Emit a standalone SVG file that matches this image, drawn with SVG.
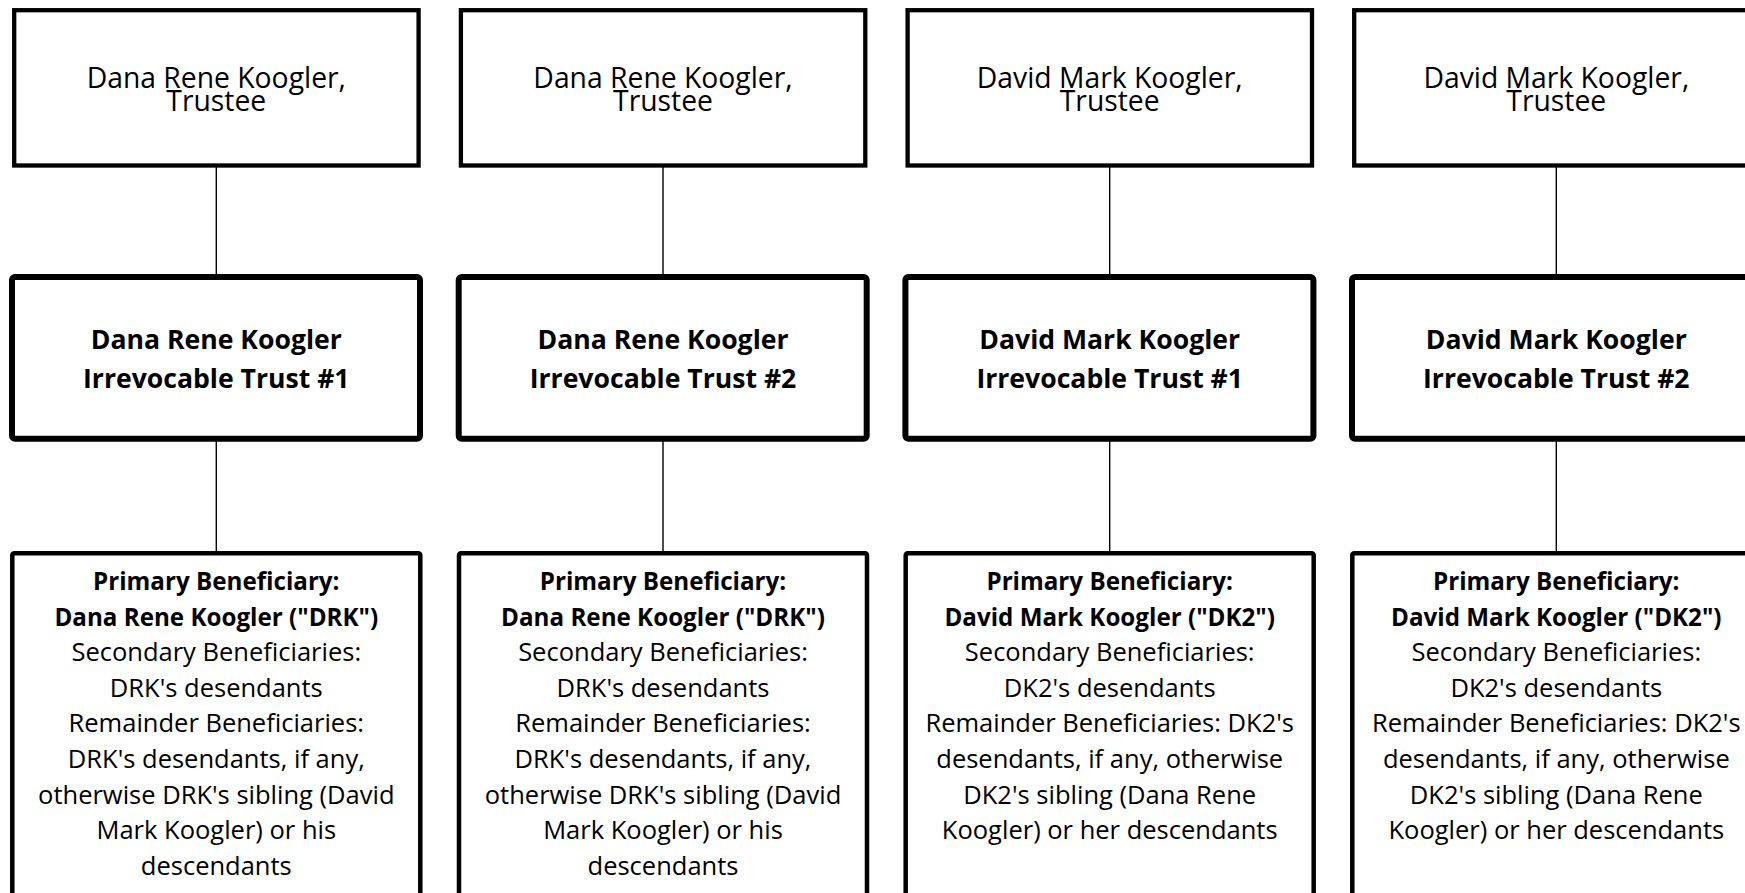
<svg xmlns="http://www.w3.org/2000/svg" width="1745" height="893" viewBox="0 0 1745 893">
<style>
.bg{fill:#fff}
.trustee{fill:#fff;stroke:#000;stroke-width:4.3}
.trust{fill:#fff;stroke:#000;stroke-width:6}
.benef{fill:#fff;stroke:#000;stroke-width:4.5}
.conn{stroke:#000;stroke-width:1.4;fill:none}
text{font-family:"Open Sans","Noto Sans","Liberation Sans",sans-serif;fill:#000;text-anchor:middle}
.t1{font-size:28.3px}
.t2{font-size:26.6px;font-weight:bold}
.t3{font-size:25.5px}
.b{font-weight:bold;font-size:24.2px}
</style>
<rect class="bg" x="0" y="0" width="1745" height="893"/>
<g id="connectors">
<line class="conn" x1="216.3" y1="167" x2="216.3" y2="275"/>
<line class="conn" x1="216.3" y1="441" x2="216.3" y2="552"/>
<line class="conn" x1="663" y1="167" x2="663" y2="275"/>
<line class="conn" x1="663" y1="441" x2="663" y2="552"/>
<line class="conn" x1="1109.7" y1="167" x2="1109.7" y2="275"/>
<line class="conn" x1="1109.7" y1="441" x2="1109.7" y2="552"/>
<line class="conn" x1="1556.3" y1="167" x2="1556.3" y2="275"/>
<line class="conn" x1="1556.3" y1="441" x2="1556.3" y2="552"/>
</g>
<g id="trustee-1">
<rect class="trustee" x="14.2" y="10.2" width="404.4" height="155.3"/>
<text class="t1" x="216.3" y="87.5">Dana Rene Koogler,<tspan x="216.3" dy="23.5">Trustee</tspan></text>
</g>
<g id="trustee-2">
<rect class="trustee" x="460.9" y="10.2" width="404.4" height="155.3"/>
<text class="t1" x="663" y="87.5">Dana Rene Koogler,<tspan x="663" dy="23.5">Trustee</tspan></text>
</g>
<g id="trustee-3">
<rect class="trustee" x="907.6" y="10.2" width="404.4" height="155.3"/>
<text class="t1" x="1109.7" y="87.5">David Mark Koogler,<tspan x="1109.7" dy="23.5">Trustee</tspan></text>
</g>
<g id="trustee-4">
<rect class="trustee" x="1354.2" y="10.2" width="404.4" height="155.3"/>
<text class="t1" x="1556.3" y="87.5">David Mark Koogler,<tspan x="1556.3" dy="23.5">Trustee</tspan></text>
</g>
<g id="trust-drk-1">
<rect class="trust" x="12" y="277" width="408" height="161.7" rx="3"/>
<text class="t2" x="216.3" y="349">Dana Rene Koogler</text>
<text class="t2" x="216.3" y="388">Irrevocable Trust #1</text>
</g>
<g id="trust-drk-2">
<rect class="trust" x="458.7" y="277" width="408" height="161.7" rx="3"/>
<text class="t2" x="663" y="349">Dana Rene Koogler</text>
<text class="t2" x="663" y="388">Irrevocable Trust #2</text>
</g>
<g id="trust-dk2-1">
<rect class="trust" x="905.4" y="277" width="408" height="161.7" rx="3"/>
<text class="t2" x="1109.7" y="349">David Mark Koogler</text>
<text class="t2" x="1109.7" y="388">Irrevocable Trust #1</text>
</g>
<g id="trust-dk2-2">
<rect class="trust" x="1352" y="277" width="408" height="161.7" rx="3"/>
<text class="t2" x="1556.3" y="349">David Mark Koogler</text>
<text class="t2" x="1556.3" y="388">Irrevocable Trust #2</text>
</g>
<g id="benef-1">
<rect class="benef" x="12.3" y="553.3" width="408" height="380" rx="2"/>
<text class="t3" x="216.3" y="590"><tspan class="b">Primary Beneficiary:</tspan><tspan class="b" x="216.3" dy="35.6">Dana Rene Koogler ("DRK")</tspan><tspan x="216.3" dy="35.6">Secondary Beneficiaries:</tspan><tspan x="216.3" dy="35.6">DRK's desendants</tspan><tspan x="216.3" dy="35.6">Remainder Beneficiaries:</tspan><tspan x="216.3" dy="35.6">DRK's desendants, if any,</tspan><tspan x="216.3" dy="35.6">otherwise DRK's sibling (David</tspan><tspan x="216.3" dy="35.6">Mark Koogler) or his</tspan><tspan x="216.3" dy="35.6">descendants</tspan></text>
</g>
<g id="benef-2">
<rect class="benef" x="459" y="553.3" width="408" height="380" rx="2"/>
<text class="t3" x="663" y="590"><tspan class="b">Primary Beneficiary:</tspan><tspan class="b" x="663" dy="35.6">Dana Rene Koogler ("DRK")</tspan><tspan x="663" dy="35.6">Secondary Beneficiaries:</tspan><tspan x="663" dy="35.6">DRK's desendants</tspan><tspan x="663" dy="35.6">Remainder Beneficiaries:</tspan><tspan x="663" dy="35.6">DRK's desendants, if any,</tspan><tspan x="663" dy="35.6">otherwise DRK's sibling (David</tspan><tspan x="663" dy="35.6">Mark Koogler) or his</tspan><tspan x="663" dy="35.6">descendants</tspan></text>
</g>
<g id="benef-3">
<rect class="benef" x="905.7" y="553.3" width="408" height="380" rx="2"/>
<text class="t3" x="1109.7" y="590"><tspan class="b">Primary Beneficiary:</tspan><tspan class="b" x="1109.7" dy="35.6">David Mark Koogler ("DK2")</tspan><tspan x="1109.7" dy="35.6">Secondary Beneficiaries:</tspan><tspan x="1109.7" dy="35.6">DK2's desendants</tspan><tspan x="1109.7" dy="35.6">Remainder Beneficiaries: DK2's</tspan><tspan x="1109.7" dy="35.6">desendants, if any, otherwise</tspan><tspan x="1109.7" dy="35.6">DK2's sibling (Dana Rene</tspan><tspan x="1109.7" dy="35.6">Koogler) or her descendants</tspan></text>
</g>
<g id="benef-4">
<rect class="benef" x="1352.3" y="553.3" width="408" height="380" rx="2"/>
<text class="t3" x="1556.3" y="590"><tspan class="b">Primary Beneficiary:</tspan><tspan class="b" x="1556.3" dy="35.6">David Mark Koogler ("DK2")</tspan><tspan x="1556.3" dy="35.6">Secondary Beneficiaries:</tspan><tspan x="1556.3" dy="35.6">DK2's desendants</tspan><tspan x="1556.3" dy="35.6">Remainder Beneficiaries: DK2's</tspan><tspan x="1556.3" dy="35.6">desendants, if any, otherwise</tspan><tspan x="1556.3" dy="35.6">DK2's sibling (Dana Rene</tspan><tspan x="1556.3" dy="35.6">Koogler) or her descendants</tspan></text>
</g>
</svg>
